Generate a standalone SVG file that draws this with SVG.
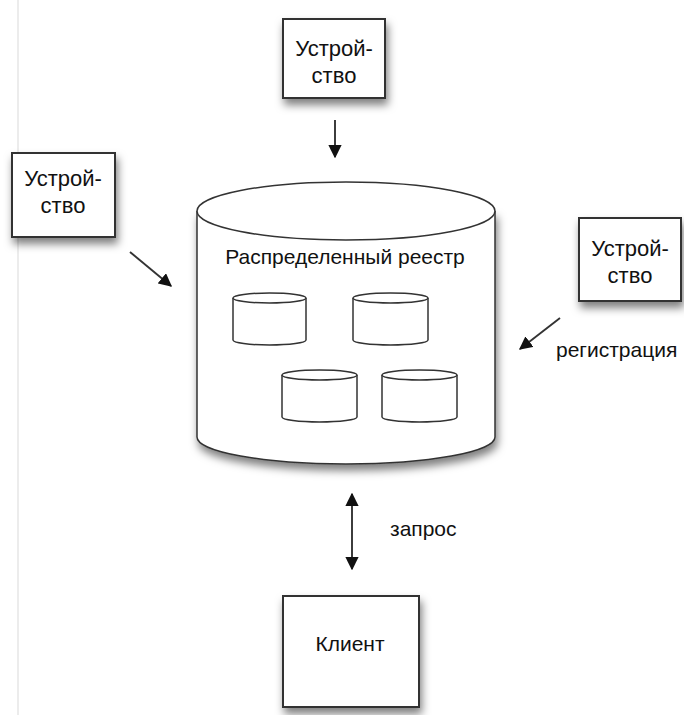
<svg xmlns="http://www.w3.org/2000/svg" width="684" height="715" viewBox="0 0 684 715">
<defs>
<filter id="sh" x="-20%" y="-20%" width="150%" height="150%">
<feDropShadow dx="2" dy="6" stdDeviation="4" flood-color="#000" flood-opacity="0.5"/>
</filter>
<marker id="ah" viewBox="0 0 10 10" refX="9" refY="5" markerWidth="7" markerHeight="7" orient="auto-start-reverse" markerUnits="strokeWidth">
<path d="M0,0 L10,5 L0,10 z" fill="#111"/>
</marker>
<style>
.box{fill:#fff;stroke:#333;stroke-width:2}
.cyl{fill:#fff;stroke:#333;stroke-width:1.5}
.t{font-family:"Liberation Sans",Arial,sans-serif;font-size:21px;fill:#111}
.d{font-size:22px}
.c{text-anchor:middle}
.ln{stroke:#333;stroke-width:1.9;fill:none}
</style>
</defs>
<rect width="684" height="715" fill="#fff"/>
<line x1="18" y1="0" x2="18" y2="715" stroke="#e6e6e6" stroke-width="1.5"/>

<g id="device-top">
<rect class="box" x="283" y="19" width="102" height="79" filter="url(#sh)"/>
<text class="t d c" x="334" y="56">Устрой-</text>
<text class="t d c" x="334" y="83">ство</text>
</g>

<g id="device-left">
<rect class="box" x="12" y="153" width="103" height="84" filter="url(#sh)"/>
<text class="t d c" x="63" y="186">Устрой-</text>
<text class="t d c" x="63" y="213">ство</text>
</g>

<g id="device-right">
<rect class="box" x="579" y="218" width="102" height="83" filter="url(#sh)"/>
<text class="t d c" x="630" y="256">Устрой-</text>
<text class="t d c" x="630" y="283">ство</text>
</g>

<g id="registry">
<path class="cyl" d="M197,211 L197,437 A149,27 0 0 0 495,437 L495,211" filter="url(#sh)"/>
<ellipse class="cyl" cx="346" cy="211" rx="149" ry="29"/>
<text class="t c" x="345" y="264">Распределенный реестр</text>
<g id="db1">
<path class="cyl" d="M233,298 L233,340 A36.5,5 0 0 0 306,340 L306,298"/>
<ellipse class="cyl" cx="269.5" cy="298" rx="36.5" ry="5"/>
</g>
<g id="db2">
<path class="cyl" d="M353,298 L353,340 A37.5,5 0 0 0 428,340 L428,298"/>
<ellipse class="cyl" cx="390.5" cy="298" rx="37.5" ry="5"/>
</g>
<g id="db3">
<path class="cyl" d="M282,375 L282,417 A37.5,5 0 0 0 357,417 L357,375"/>
<ellipse class="cyl" cx="319.5" cy="375" rx="37.5" ry="5"/>
</g>
<g id="db4">
<path class="cyl" d="M382,375 L382,417 A37.5,5 0 0 0 457,417 L457,375"/>
<ellipse class="cyl" cx="419.5" cy="375" rx="37.5" ry="5"/>
</g>
</g>

<g id="client">
<rect class="box" x="283" y="596" width="136" height="111" filter="url(#sh)"/>
<text class="t c" x="350" y="651">Клиент</text>
</g>

<g id="connectors">
<line class="ln" x1="335" y1="120" x2="335" y2="157" marker-end="url(#ah)"/>
<line class="ln" x1="130" y1="252" x2="171" y2="286" marker-end="url(#ah)"/>
<line class="ln" x1="560" y1="318" x2="520" y2="349" marker-end="url(#ah)"/>
<line class="ln" x1="352" y1="494" x2="352" y2="569" marker-start="url(#ah)" marker-end="url(#ah)"/>
<text class="t" x="556" y="357">регистрация</text>
<text class="t" x="390" y="536">запрос</text>
</g>
</svg>
